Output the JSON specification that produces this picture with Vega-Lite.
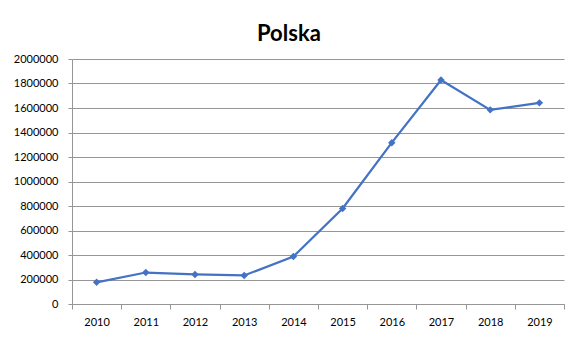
{
  "$schema": "https://vega.github.io/schema/vega-lite/v6.json",
  "autosize": "none",
  "width": 492,
  "height": 245,
  "padding": {"left": 72, "top": 59, "right": 19, "bottom": 38},
  "background": "white",
  "title": {
    "text": "Polska",
    "font": "Lato",
    "fontSize": 22,
    "fontWeight": "bold",
    "color": "#000000",
    "anchor": "middle",
    "frame": "bounds",
    "baseline": "alphabetic",
    "offset": -10
  },
  "data": {
    "values": [
      {"year": "2010", "value": 177000},
      {"year": "2011", "value": 257000},
      {"year": "2012", "value": 241000},
      {"year": "2013", "value": 233000},
      {"year": "2014", "value": 388000},
      {"year": "2015", "value": 780000},
      {"year": "2016", "value": 1317000},
      {"year": "2017", "value": 1829000},
      {"year": "2018", "value": 1585000},
      {"year": "2019", "value": 1642000}
    ]
  },
  "mark": {
    "type": "line",
    "color": "#4472C4",
    "strokeWidth": 2.25,
    "point": {"shape": "diamond", "size": 55, "filled": true, "color": "#4472C4"}
  },
  "encoding": {
    "x": {
      "field": "year",
      "type": "ordinal",
      "scale": {"type": "band", "paddingInner": 0, "paddingOuter": 0},
      "axis": {
        "title": null,
        "labelAngle": 0,
        "tickBand": "extent",
        "tickSize": 5,
        "tickColor": "#969696",
        "domainColor": "#969696",
        "labelFont": "Lato",
        "labelFontSize": 11,
        "labelColor": "#000000",
        "labelPadding": 7,
        "grid": false
      }
    },
    "y": {
      "field": "value",
      "type": "quantitative",
      "scale": {"domain": [0, 2000000], "nice": false},
      "axis": {
        "title": null,
        "values": [0, 200000, 400000, 600000, 800000, 1000000, 1200000, 1400000, 1600000, 1800000, 2000000],
        "format": "d",
        "tickSize": 4,
        "tickColor": "#969696",
        "domainColor": "#969696",
        "gridColor": "#969696",
        "labelFont": "Lato",
        "labelFontSize": 11,
        "labelColor": "#000000",
        "labelPadding": 10
      }
    }
  },
  "config": {"view": {"stroke": null}}
}
